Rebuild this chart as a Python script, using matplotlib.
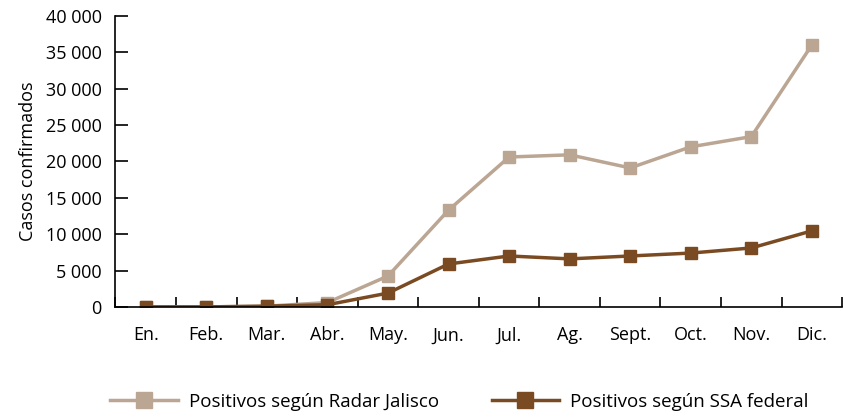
import matplotlib.pyplot as plt
from matplotlib.ticker import FuncFormatter

plt.rcParams['font.family'] = ['Open Sans', 'DejaVu Sans']

meses = ["En.", "Feb.", "Mar.", "Abr.", "May.", "Jun.", "Jul.", "Ag.", "Sept.", "Oct.", "Nov.", "Dic."]
radar = [0, 0, 100, 600, 4250, 13300, 20600, 20900, 19100, 22000, 23400, 36000]
ssa = [0, 0, 100, 300, 1900, 5900, 7000, 6600, 7000, 7400, 8100, 10450]

c_radar = '#bba593'
c_ssa = '#7a4b22'

fig = plt.figure(figsize=(8.43, 4.17), dpi=100)
ax = fig.add_axes([0.137, 0.264, 0.862, 0.698])

x = list(range(len(meses)))
ax.plot(x, radar, color=c_radar, lw=2.5, marker='s', ms=8, label='Positivos según Radar Jalisco')
ax.plot(x, ssa, color=c_ssa, lw=2.5, marker='s', ms=8, label='Positivos según SSA federal')

ax.set_xlim(-0.5, 11.5)
ax.set_ylim(0, 40000)
ax.set_yticks(range(0, 40001, 5000))
ax.yaxis.set_major_formatter(FuncFormatter(lambda v, p: f"{int(v):,}".replace(",", " ")))
ax.set_xticks(x)
ax.set_xticklabels(meses)
ax.set_xticks([i + 0.5 for i in range(-1, 12)], minor=True)
ax.tick_params(axis='x', which='major', length=0, pad=14, labelsize=13)
ax.tick_params(axis='x', which='minor', direction='in', length=7, width=1.2)
ax.tick_params(axis='y', direction='in', length=9, width=1.2, labelsize=13, pad=10)
for s in ['top', 'right']:
    ax.spines[s].set_visible(False)
for s in ['left', 'bottom']:
    ax.spines[s].set_linewidth(1.2)
ax.set_ylabel('Casos confirmados', fontsize=13, labelpad=6)

fig.legend(loc='lower center', ncol=2, frameon=False, fontsize=13.5,
           bbox_to_anchor=(0.545, -0.025), handlelength=3.6, columnspacing=2.8,
           markerscale=1.5, handletextpad=0.6)

fig.savefig('out.png', dpi=100)
